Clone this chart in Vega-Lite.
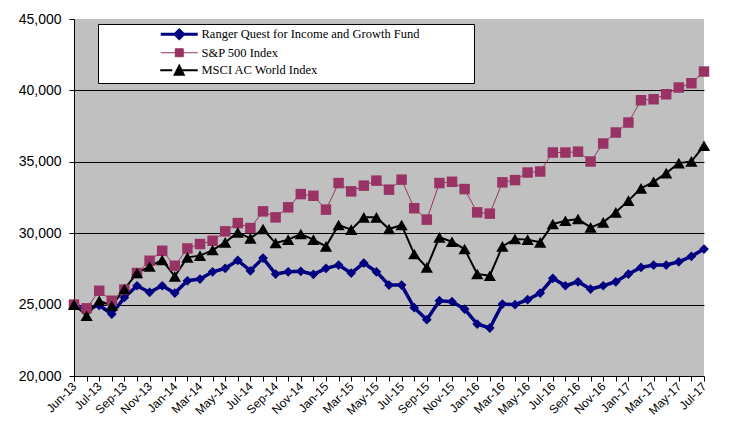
{
  "$schema": "https://vega.github.io/schema/vega-lite/v6.json",
  "width": 630,
  "height": 357,
  "padding": {"left": 18, "top": 12, "right": 23, "bottom": 5},
  "background": "white",
  "config": {
    "view": {"fill": "#C0C0C0", "stroke": null},
    "axis": {"domainColor": "black", "tickColor": "black", "labelColor": "black", "labelFont": "Liberation Sans", "title": null}
  },
  "data": {"values": [
    {"i":0,"R":25000,"S":25000,"M":25000},
    {"i":1,"R":24700,"S":24740,"M":24220},
    {"i":2,"R":24950,"S":25970,"M":25270},
    {"i":3,"R":24340,"S":25270,"M":24920},
    {"i":4,"R":25500,"S":26050,"M":26090},
    {"i":5,"R":26320,"S":27210,"M":27210},
    {"i":6,"R":25860,"S":28070,"M":27670},
    {"i":7,"R":26320,"S":28770,"M":28120},
    {"i":8,"R":25810,"S":27720,"M":26980},
    {"i":9,"R":26670,"S":28930,"M":28310},
    {"i":10,"R":26790,"S":29240,"M":28430},
    {"i":11,"R":27300,"S":29470,"M":28820},
    {"i":12,"R":27540,"S":30130,"M":29360},
    {"i":13,"R":28100,"S":30710,"M":30060},
    {"i":14,"R":27370,"S":30360,"M":29640},
    {"i":15,"R":28260,"S":31530,"M":30290},
    {"i":16,"R":27140,"S":31110,"M":29310},
    {"i":17,"R":27300,"S":31810,"M":29550},
    {"i":18,"R":27330,"S":32740,"M":29940},
    {"i":19,"R":27120,"S":32620,"M":29550},
    {"i":20,"R":27540,"S":31650,"M":29080},
    {"i":21,"R":27770,"S":33510,"M":30570},
    {"i":22,"R":27210,"S":32930,"M":30250},
    {"i":23,"R":27910,"S":33330,"M":31110},
    {"i":24,"R":27300,"S":33680,"M":31110},
    {"i":25,"R":26370,"S":33050,"M":30290},
    {"i":26,"R":26370,"S":33750,"M":30570},
    {"i":27,"R":24780,"S":31750,"M":28540},
    {"i":28,"R":23940,"S":30950,"M":27610},
    {"i":29,"R":25270,"S":33510,"M":29710},
    {"i":30,"R":25200,"S":33600,"M":29400},
    {"i":31,"R":24690,"S":33090,"M":28890},
    {"i":32,"R":23640,"S":31460,"M":27140},
    {"i":33,"R":23360,"S":31370,"M":27020},
    {"i":34,"R":25040,"S":33560,"M":29080},
    {"i":35,"R":24990,"S":33720,"M":29590},
    {"i":36,"R":25340,"S":34250,"M":29550},
    {"i":37,"R":25810,"S":34320,"M":29360},
    {"i":38,"R":26840,"S":35650,"M":30640},
    {"i":39,"R":26320,"S":35650,"M":30870},
    {"i":40,"R":26600,"S":35710,"M":30990},
    {"i":41,"R":26090,"S":35020,"M":30410},
    {"i":42,"R":26320,"S":36280,"M":30760},
    {"i":43,"R":26600,"S":37050,"M":31460},
    {"i":44,"R":27140,"S":37750,"M":32280},
    {"i":45,"R":27600,"S":39310,"M":33140},
    {"i":46,"R":27770,"S":39380,"M":33600},
    {"i":47,"R":27770,"S":39730,"M":34210},
    {"i":48,"R":28000,"S":40200,"M":34910},
    {"i":49,"R":28380,"S":40500,"M":35030},
    {"i":50,"R":28890,"S":41320,"M":36120}
  ]},
  "transform": [
    {"fold": ["R", "S", "M"], "as": ["key", "value"]},
    {"lookup": "key", "from": {"data": {"values": [
      {"key": "R", "series": "Ranger Quest for Income and Growth Fund"},
      {"key": "S", "series": "S&P 500 Index"},
      {"key": "M", "series": "MSCI AC World Index"}
    ]}, "key": "key", "fields": ["series"]}}
  ],
  "encoding": {
    "x": {
      "field": "i", "type": "quantitative",
      "scale": {"domain": [0, 50], "nice": false, "zero": false},
      "axis": {
        "values": [0,1,2,3,4,5,6,7,8,9,10,11,12,13,14,15,16,17,18,19,20,21,22,23,24,25,26,27,28,29,30,31,32,33,34,35,36,37,38,39,40,41,42,43,44,45,46,47,48,49,50],
        "labelExpr": "datum.value % 2 != 0 ? '' : (datum.value == 0 ? 'Jun-13' : ['Jan','Feb','Mar','Apr','May','Jun','Jul','Aug','Sep','Oct','Nov','Dec'][(datum.value + 4) % 12] + '-' + (13 + floor((datum.value + 4) / 12)))",
        "labelAngle": -45, "labelAlign": "right", "labelBaseline": "middle",
        "labelFontSize": 12, "labelPadding": 3, "tickSize": 5, "grid": false,
        "labelOverlap": false, "labelBound": false
      }
    },
    "y": {
      "field": "value", "type": "quantitative",
      "scale": {"domain": [20000, 45000], "nice": false, "zero": false},
      "axis": {
        "values": [20000, 25000, 30000, 35000, 40000, 45000],
        "format": ",d", "labelFontSize": 14, "labelPadding": 8, "tickSize": 5,
        "grid": true,
        "gridColor": {"condition": {"test": "datum.value == 45000 || datum.value == 20000", "value": "transparent"}, "value": "black"},
        "gridWidth": 1
      }
    }
  },
  "layer": [
    {
      "transform": [{"filter": "datum.key == 'R'"}],
      "mark": {"type": "line", "strokeWidth": 3.5, "strokeJoin": "miter"},
      "encoding": {
        "color": {
          "field": "series", "type": "nominal",
          "scale": {"domain": ["Ranger Quest for Income and Growth Fund", "S&P 500 Index", "MSCI AC World Index"], "range": ["#000080", "#993366", "#000000"]},
          "legend": {
            "orient": "none", "legendX": 24, "legendY": 5, "title": null,
            "fillColor": "white", "strokeColor": "black", "padding": 4,
            "symbolSize": 100, "symbolType": "M-3.7,0H3.7",
            "symbolOffset": 71, "labelOffset": 16, "rowPadding": 1.5,
            "labelFont": "Liberation Serif", "labelFontSize": 12.5, "labelColor": "black", "labelLimit": 500,
            "labelExpr": "datum.label + '\u2003\u2003\u2003\u2003\u200b'",
            "encode": {"symbols": {"update": {
              "shape": {"signal": "datum.value == 'S&P 500 Index' ? 'M-3.7,0H3.7M-0.8,-0.8H0.8V0.8H-0.8Z' : (datum.value == 'MSCI AC World Index' ? 'M-3.8,0H-1.4M-0.9,0.9L0,-0.9L0.9,0.9ZM0,0H3.7' : 'M-3.7,0H3.7M0,-0.85L0.85,0L0,0.85L-0.85,0Z')"},
              "fill": {"signal": "datum.value == 'S&P 500 Index' ? '#993366' : (datum.value == 'MSCI AC World Index' ? '#000000' : '#000080')"},
              "stroke": {"signal": "datum.value == 'S&P 500 Index' ? '#993366' : (datum.value == 'MSCI AC World Index' ? '#000000' : '#000080')"},
              "strokeWidth": {"signal": "datum.value == 'S&P 500 Index' ? 1 : (datum.value == 'MSCI AC World Index' ? 2 : 3)"},
              "opacity": {"value": 1}
            }}}
          }
        }
      }
    },
    {
      "transform": [{"filter": "datum.key == 'S'"}],
      "mark": {"type": "line", "strokeWidth": 1},
      "encoding": {"color": {"field": "series", "type": "nominal"}}
    },
    {
      "transform": [{"filter": "datum.key == 'M'"}],
      "mark": {"type": "line", "strokeWidth": 2},
      "encoding": {"color": {"field": "series", "type": "nominal"}}
    },
    {
      "transform": [{"filter": "datum.key == 'R'"}],
      "mark": {"type": "point", "shape": "diamond", "filled": true, "opacity": 1, "size": 95, "color": "#000080"},
      "encoding": {}
    },
    {
      "transform": [{"filter": "datum.key == 'S'"}],
      "mark": {"type": "point", "shape": "square", "filled": true, "opacity": 1, "size": 110, "color": "#993366"},
      "encoding": {}
    },
    {
      "transform": [{"filter": "datum.key == 'M'"}],
      "mark": {"type": "point", "shape": "triangle-up", "filled": true, "opacity": 1, "size": 150, "color": "#000000"},
      "encoding": {}
    }
  ]
}
